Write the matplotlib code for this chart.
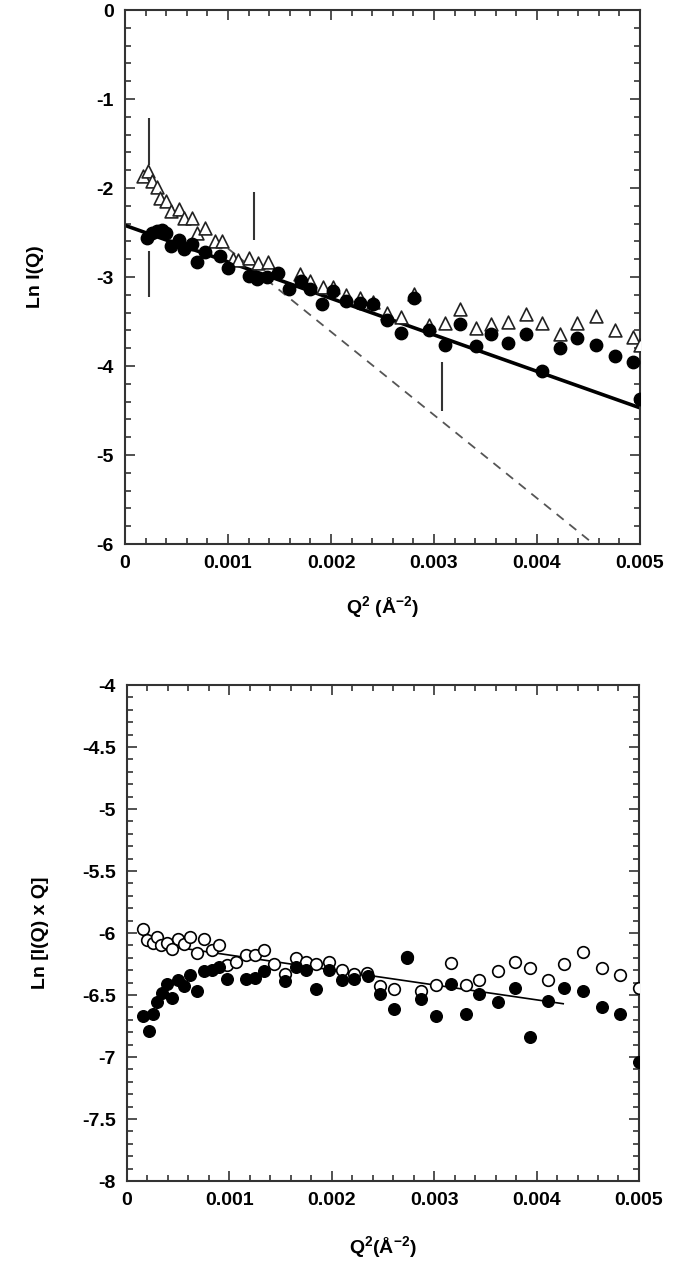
import numpy as np
import matplotlib.pyplot as plt
from matplotlib.ticker import MultipleLocator, FuncFormatter

plt.rcParams['font.family'] = ['Liberation Sans', 'DejaVu Sans']
plt.rcParams['font.weight'] = 'bold'
plt.rcParams['axes.unicode_minus'] = False
plt.rcParams['mathtext.fontset'] = 'custom'
plt.rcParams['mathtext.bf'] = 'Liberation Sans:bold'
plt.rcParams['mathtext.rm'] = 'Liberation Sans:bold'

# ---- top panel: Ln I(Q) vs Q^2 ----
q2_filled = [0.00021, 0.00026, 0.00031, 0.00036, 0.00040, 0.00045, 0.00052, 0.00057,
             0.00065, 0.00070, 0.00078, 0.00092, 0.00100, 0.00120, 0.00128, 0.00138,
             0.00149, 0.00159, 0.00171, 0.00180, 0.00191, 0.00202, 0.00215, 0.00228,
             0.00241, 0.00254, 0.00268, 0.00281, 0.00295, 0.00311, 0.00325, 0.00341,
             0.00355, 0.00372, 0.00389, 0.00405, 0.00422, 0.00439, 0.00457, 0.00476,
             0.00493, 0.00500]
ln_filled = [-2.56, -2.50, -2.48, -2.47, -2.50, -2.65, -2.58, -2.69,
             -2.63, -2.83, -2.72, -2.76, -2.90, -2.99, -3.02, -3.00,
             -2.96, -3.14, -3.05, -3.13, -3.30, -3.16, -3.27, -3.29,
             -3.30, -3.48, -3.63, -3.24, -3.60, -3.76, -3.53, -3.77,
             -3.64, -3.74, -3.64, -4.06, -3.80, -3.69, -3.76, -3.89,
             -3.96, -4.37]

q2_tri = [0.00017, 0.00022, 0.00026, 0.00031, 0.00034, 0.00040, 0.00045, 0.00052,
          0.00057, 0.00065, 0.00070, 0.00078, 0.00087, 0.00094, 0.00105, 0.00110,
          0.00120, 0.00129, 0.00139, 0.00170, 0.00180, 0.00192, 0.00202, 0.00215,
          0.00228, 0.00241, 0.00254, 0.00268, 0.00281, 0.00295, 0.00311, 0.00325,
          0.00341, 0.00355, 0.00372, 0.00389, 0.00405, 0.00422, 0.00439, 0.00457,
          0.00476, 0.00493, 0.00500]
ln_tri = [-1.86, -1.81, -1.92, -1.99, -2.11, -2.15, -2.26, -2.24,
          -2.34, -2.34, -2.50, -2.45, -2.60, -2.60, -2.80, -2.81,
          -2.79, -2.84, -2.83, -2.97, -3.05, -3.11, -3.11, -3.20,
          -3.24, -3.28, -3.40, -3.45, -3.19, -3.54, -3.52, -3.36,
          -3.57, -3.53, -3.50, -3.42, -3.52, -3.64, -3.52, -3.44,
          -3.59, -3.67, -3.76]

fit_x = [0.0, 0.005]
fit_y = [-2.42, -4.47]
steep_x = [0.0010, 0.00455]
steep_y = [-2.68, -6.0]

# vertical marker bars (x, y_low, y_high)
bar_x = [0.00023, 0.00023, 0.00125, 0.00308]
bar_lo = [-1.74, -3.23, -2.58, -4.50]
bar_hi = [-1.21, -2.71, -2.05, -3.96]

# ---- bottom panel: Ln[I(Q) x Q] vs Q^2 ----
q2_b = [0.00016, 0.00020, 0.00025, 0.00029, 0.00033, 0.00039, 0.00044, 0.00050,
        0.00056, 0.00062, 0.00068, 0.00075, 0.00083, 0.00090, 0.00098, 0.00106,
        0.00116, 0.00125, 0.00134, 0.00144, 0.00154, 0.00165, 0.00175, 0.00185,
        0.00197, 0.00210, 0.00222, 0.00234, 0.00247, 0.00261, 0.00273, 0.00287,
        0.00302, 0.00316, 0.00331, 0.00344, 0.00362, 0.00379, 0.00394, 0.00411,
        0.00427, 0.00445, 0.00464, 0.00481, 0.00500]
ln_open = [-5.97, -6.06, -6.08, -6.03, -6.10, -6.08, -6.13, -6.05,
           -6.09, -6.03, -6.16, -6.05, -6.14, -6.10, -6.26, -6.23,
           -6.18, -6.18, -6.14, -6.25, -6.33, -6.20, -6.23, -6.25,
           -6.23, -6.30, -6.33, -6.32, -6.43, -6.45, -6.19, -6.47,
           -6.42, -6.24, -6.42, -6.38, -6.31, -6.23, -6.28, -6.38,
           -6.25, -6.15, -6.28, -6.34, -6.44]

q2_bf = [0.00016, 0.00021, 0.00025, 0.00029, 0.00034, 0.00039, 0.00044, 0.00050,
         0.00056, 0.00062, 0.00068, 0.00075, 0.00083, 0.00090, 0.00098, 0.00116,
         0.00125, 0.00134, 0.00154, 0.00165, 0.00175, 0.00185, 0.00197, 0.00210,
         0.00222, 0.00235, 0.00247, 0.00261, 0.00273, 0.00287, 0.00302, 0.00316,
         0.00331, 0.00344, 0.00362, 0.00379, 0.00394, 0.00411, 0.00427, 0.00445,
         0.00464, 0.00481, 0.00500]
ln_bf = [-6.67, -6.79, -6.65, -6.56, -6.48, -6.41, -6.52, -6.38,
         -6.43, -6.34, -6.47, -6.31, -6.30, -6.27, -6.37, -6.37,
         -6.36, -6.31, -6.39, -6.27, -6.30, -6.45, -6.30, -6.38,
         -6.37, -6.35, -6.49, -6.61, -6.20, -6.53, -6.67, -6.41,
         -6.65, -6.49, -6.56, -6.44, -6.84, -6.55, -6.44, -6.47,
         -6.60, -6.65, -7.04]

fit_b_x = [0.00019, 0.00426]
fit_b_y = [-6.08, -6.57]

fig = plt.figure(figsize=(6.85, 12.66), dpi=100)
ax1 = fig.add_axes([0.1825, 0.5703, 0.7518, 0.4218])
ax2 = fig.add_axes([0.1854, 0.0671, 0.7474, 0.3918])

frame = '#333333'
fmt = FuncFormatter(lambda v, p: '0' if abs(v) < 1e-12 else f'{v:g}')


def style(ax, ymajor, yminor):
    ax.set_xlim(0, 0.005)
    ax.xaxis.set_major_locator(MultipleLocator(0.001))
    ax.xaxis.set_minor_locator(MultipleLocator(0.0002))
    ax.yaxis.set_major_locator(MultipleLocator(ymajor))
    ax.yaxis.set_minor_locator(MultipleLocator(yminor))
    ax.xaxis.set_major_formatter(fmt)
    ax.yaxis.set_major_formatter(fmt)
    ax.tick_params(which='both', direction='in', top=True, right=True,
                   labelsize=14, color=frame, width=1.2)
    ax.tick_params(which='major', length=7, pad=8)
    ax.tick_params(which='minor', length=4)
    for s in ax.spines.values():
        s.set_color(frame)
        s.set_linewidth(1.5)
    for lab in ax.get_xticklabels() + ax.get_yticklabels():
        lab.set_fontweight('bold')


# top
ax1.plot(steep_x, steep_y, ls=(0, (5, 4)), color='#555555', lw=1.3, zorder=1)
ax1.plot(fit_x, fit_y, color='black', lw=2.6, zorder=2)
ax1.vlines(bar_x, bar_lo, bar_hi, color='#333333', lw=1.5, zorder=2)
ax1.scatter(q2_tri, ln_tri, marker='^', s=85, facecolor='white',
            edgecolor='#222222', linewidths=1.2, zorder=3)
ax1.scatter(q2_filled, ln_filled, marker='o', s=80, facecolor='black',
            edgecolor='black', zorder=4)
ax1.set_ylim(-6, 0)
style(ax1, 1, 0.2)
ax1.set_ylabel('Ln I(Q)', fontsize=14, fontweight='bold', labelpad=38)
ax1.set_xlabel(r'Q$^{\mathbf{2}}$ (Å$^{\mathbf{-2}}$)', fontsize=14,
               fontweight='bold', labelpad=16)

# bottom
ax2.plot(fit_b_x, fit_b_y, color='black', lw=1.2, zorder=2)
ax2.scatter(q2_b, ln_open, marker='o', s=70, facecolor='white',
            edgecolor='black', linewidths=1.2, zorder=3)
ax2.scatter(q2_bf, ln_bf, marker='o', s=70, facecolor='black',
            edgecolor='black', zorder=4)
ax2.set_ylim(-8, -4)
style(ax2, 0.5, 0.1)
ax2.set_ylabel('Ln [I(Q) x Q]', fontsize=14, fontweight='bold', labelpad=24)
ax2.set_xlabel(r'Q$^{\mathbf{2}}$(Å$^{\mathbf{-2}}$)', fontsize=14,
               fontweight='bold', labelpad=18)

fig.savefig('out.png', dpi=100)
